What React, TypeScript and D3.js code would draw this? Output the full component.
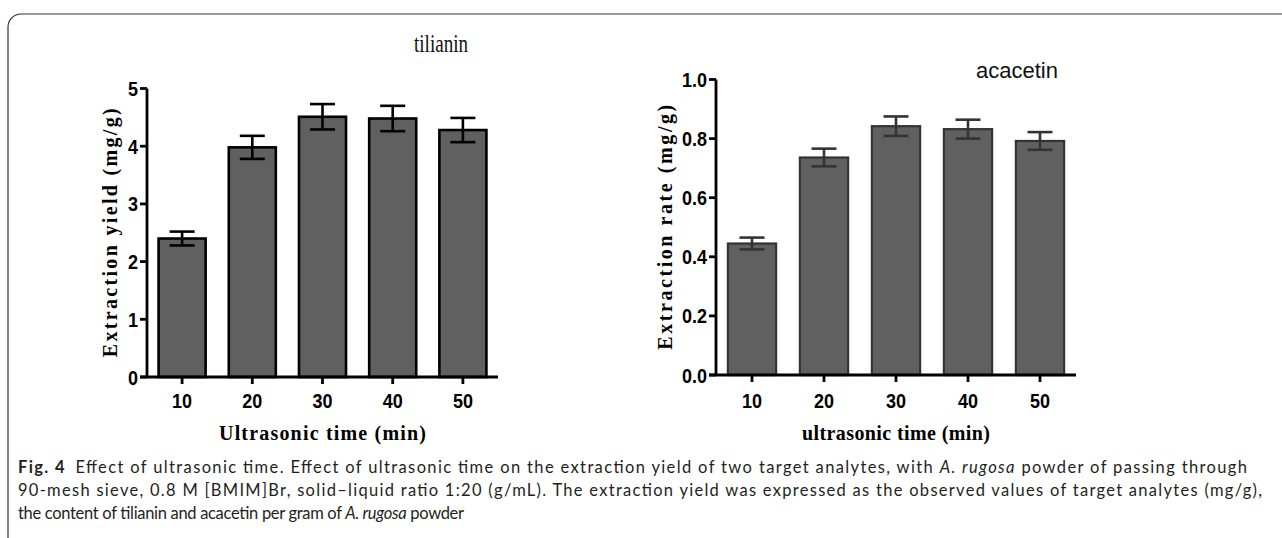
import React from "react";
import * as d3 from "d3";

// ultrasonic time categories (min)
const times = ["10", "20", "30", "40", "50"];

// tilianin extraction yield (mg/g) and error
const tilianinMean = [2.4, 3.98, 4.51, 4.48, 4.28];
const tilianinErr = [0.12, 0.2, 0.22, 0.22, 0.21];
const tilianinTicks = [0, 1, 2, 3, 4, 5];

// acacetin extraction rate (mg/g) and error
const acacetinMean = [0.445, 0.736, 0.842, 0.832, 0.792];
const acacetinErr = [0.02, 0.03, 0.033, 0.032, 0.03];
const acacetinTicks = [0, 0.2, 0.4, 0.6, 0.8, 1.0];

const BAR_FILL = "#606060";
const SANS = "Liberation Sans, Arial, sans-serif";
const SERIF = "Liberation Serif, Times New Roman, serif";
const STRETCH = 1.16; // tick labels are a bit tall in the original export

type PanelProps = {
  means: number[];
  errs: number[];
  ticks: number[];
  yMax: number;
  x0: number;
  x1: number;
  yTop: number;
  yBottom: number;
  tickFmt: (v: number) => string;
  stroke: string;
  barStroke: number;
  yTitle: string;
  yTitleX: number;
  yTitleLen: number;
  xTitle: string;
  xTitleLen: number;
};

function Panel(p: PanelProps) {
  const x = d3
    .scaleBand<string>()
    .domain(times)
    .range([p.x0, p.x1])
    .paddingInner(0.33)
    .paddingOuter(0.165);
  const y = d3.scaleLinear().domain([0, p.yMax]).range([p.yBottom, p.yTop]);
  const capW = 25;
  const midX = (p.x0 + p.x1) / 2;
  const midY = (p.yTop + p.yBottom) / 2;

  return (
    <g>
      {/* bars */}
      {times.map((t, i) => (
        <rect
          key={"b" + t}
          x={x(t)}
          y={y(p.means[i])}
          width={x.bandwidth()}
          height={y(0) - y(p.means[i])}
          fill={BAR_FILL}
          stroke={p.stroke}
          strokeWidth={p.barStroke}
        />
      ))}
      {/* error bars */}
      {times.map((t, i) => {
        const cx = (x(t) as number) + x.bandwidth() / 2;
        const hi = y(p.means[i] + p.errs[i]);
        const lo = y(p.means[i] - p.errs[i]);
        return (
          <g key={"e" + t} stroke={p.stroke} strokeWidth={2.6}>
            <line x1={cx} x2={cx} y1={hi} y2={lo} />
            <line x1={cx - capW / 2} x2={cx + capW / 2} y1={hi} y2={hi} />
            <line x1={cx - capW / 2} x2={cx + capW / 2} y1={lo} y2={lo} />
          </g>
        );
      })}
      {/* y axis */}
      <line x1={p.x0} x2={p.x0} y1={y(p.yMax)} y2={y(0)} stroke="#000" strokeWidth={2.8} />
      {p.ticks.map((v) => (
        <g key={"yt" + v}>
          <line x1={p.x0 - 7} x2={p.x0} y1={y(v)} y2={y(v)} stroke="#000" strokeWidth={2.8} />
          <text
            transform={`translate(${p.x0 - 9},${y(v)}) scale(1,${STRETCH})`}
            dy="0.36em"
            textAnchor="end"
            fontFamily={SANS}
            fontWeight="bold"
            fontSize={18}
            fill="#000"
          >
            {p.tickFmt(v)}
          </text>
        </g>
      ))}
      {/* x axis */}
      <line x1={p.x0 - 7} x2={p.x1} y1={y(0)} y2={y(0)} stroke="#000" strokeWidth={2.8} />
      {times.map((t) => {
        const cx = (x(t) as number) + x.bandwidth() / 2;
        return (
          <g key={"xt" + t}>
            <line x1={cx} x2={cx} y1={y(0)} y2={y(0) + 7} stroke="#000" strokeWidth={2.8} />
            <text
              transform={`translate(${cx},408) scale(1,${STRETCH})`}
              textAnchor="middle"
              fontFamily={SANS}
              fontWeight="bold"
              fontSize={18}
              fill="#000"
            >
              {t}
            </text>
          </g>
        );
      })}
      {/* axis titles */}
      <text
        transform={`translate(${p.yTitleX},${midY}) rotate(-90)`}
        textAnchor="middle"
        fontFamily={SERIF}
        fontWeight="bold"
        fontSize={20}
        textLength={p.yTitleLen}
        lengthAdjust="spacing"
        fill="#000"
      >
        {p.yTitle}
      </text>
      <text
        x={midX}
        y={440}
        textAnchor="middle"
        fontFamily={SERIF}
        fontWeight="bold"
        fontSize={20}
        textLength={p.xTitleLen}
        lengthAdjust="spacing"
        fill="#000"
      >
        {p.xTitle}
      </text>
    </g>
  );
}

export default function App() {
  return (
    <svg
      width={1282}
      height={538}
      style={{ position: "absolute", left: 0, top: 0, background: "#fff" }}
    >
      {/* frame */}
      <path d="M8,538 L8,27 A13,13 0 0 1 21,14 L1282,14" fill="none" stroke="#333" strokeWidth={1.2} />

      <text x={441} y={52} textAnchor="middle" fontFamily={SERIF} fontSize={26} textLength={54} lengthAdjust="spacingAndGlyphs" fill="#111">
        tilianin
      </text>
      <Panel
        means={tilianinMean}
        errs={tilianinErr}
        ticks={tilianinTicks}
        yMax={5}
        x0={147}
        x1={498}
        yTop={88.5}
        yBottom={377}
        tickFmt={(v) => d3.format("d")(v)}
        stroke="#000"
        barStroke={2.6}
        yTitle="Extraction yield (mg/g)"
        yTitleX={117}
        yTitleLen={249}
        xTitle="Ultrasonic time (min)"
        xTitleLen={207}
      />

      <text x={1017} y={78} textAnchor="middle" fontFamily={SANS} fontSize={22} fill="#111">
        acacetin
      </text>
      <Panel
        means={acacetinMean}
        errs={acacetinErr}
        ticks={acacetinTicks}
        yMax={1.0}
        x0={716}
        x1={1076}
        yTop={79.5}
        yBottom={375}
        tickFmt={(v) => d3.format(".1f")(v)}
        stroke="#333"
        barStroke={2.2}
        yTitle="Extraction rate (mg/g)"
        yTitleX={672}
        yTitleLen={245}
        xTitle="ultrasonic time (min)"
        xTitleLen={188}
      />

      {/* caption */}
      <g fontFamily="Lato, sans-serif" fontSize={16.5} fill="#231f20">
        <text x={18} y={473} textLength={1229} lengthAdjust="spacing">
          <tspan fontWeight="bold">Fig. 4</tspan>
          <tspan>{"\u2002Effect of ultrasonic time. Effect of ultrasonic time on the extraction yield of two target analytes, with "}</tspan>
          <tspan fontStyle="italic">A. rugosa</tspan>
          <tspan> powder of passing through</tspan>
        </text>
        <text x={18} y={496} textLength={1244} lengthAdjust="spacing">
          90-mesh sieve, 0.8 M [BMIM]Br, solid–liquid ratio 1:20 (g/mL). The extraction yield was expressed as the observed values of target analytes (mg/g),
        </text>
        <text x={18} y={519} textLength={446} lengthAdjust="spacing">
          <tspan>the content of tilianin and acacetin per gram of </tspan>
          <tspan fontStyle="italic">A. rugosa</tspan>
          <tspan> powder</tspan>
        </text>
      </g>
    </svg>
  );
}
